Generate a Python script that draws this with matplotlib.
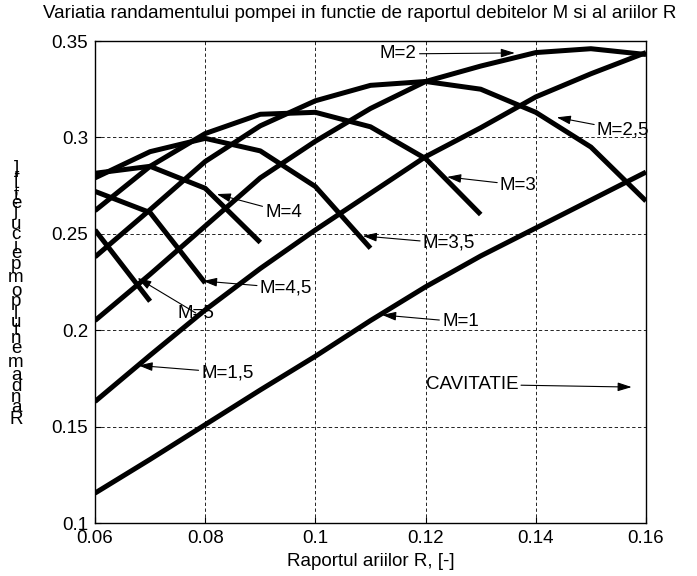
import matplotlib
matplotlib.use("Agg")
import matplotlib.pyplot as plt
from matplotlib.textpath import TextToPath
from matplotlib.font_manager import FontProperties

plt.rcParams['font.family'] = ['Liberation Sans', 'DejaVu Sans']

# raportul ariilor R
R = [0.06, 0.07, 0.08, 0.09, 0.10, 0.11, 0.12, 0.13, 0.14, 0.15, 0.16]

# randamentul pentru fiecare M (pana la limita de cavitatie)
eta_M1 = [0.1155, 0.133, 0.151, 0.169, 0.1865, 0.205, 0.2225, 0.2385, 0.253, 0.2675, 0.282]
eta_M15 = [0.163, 0.187, 0.2105, 0.232, 0.252, 0.271, 0.290, 0.305, 0.321, 0.333, 0.344]
eta_M2 = [0.205, 0.229, 0.254, 0.279, 0.298, 0.315, 0.329, 0.337, 0.344, 0.346, 0.343]
eta_M25 = [0.238, 0.2625, 0.2875, 0.306, 0.319, 0.327, 0.329, 0.325, 0.313, 0.295, 0.267]
eta_M3 = [0.262, 0.285, 0.302, 0.312, 0.313, 0.3055, 0.289, 0.26]
eta_M35 = [0.279, 0.2926, 0.2995, 0.293, 0.2745, 0.2425]
eta_M4 = [0.2814, 0.285, 0.2736, 0.2455]
eta_M45 = [0.272, 0.261, 0.2245]
eta_M5 = [0.252, 0.215]

x_ticks = [0.06, 0.08, 0.10, 0.12, 0.14, 0.16]
x_tick_labels = ['0.06', '0.08', '0.1', '0.12', '0.14', '0.16']
y_ticks = [0.10, 0.15, 0.20, 0.25, 0.30, 0.35]
y_tick_labels = ['0.1', '0.15', '0.2', '0.25', '0.3', '0.35']

# eticheta, varful sagetii, pozitia textului, aliniere
labels = ['M=2', 'M=2,5', 'M=3', 'M=3,5', 'M=1', 'M=1,5', 'M=4', 'M=4,5', 'M=5', 'CAVITATIE']
heads = [(0.1362, 0.3438), (0.1438, 0.3104), (0.1239, 0.2795), (0.1086, 0.2489),
         (0.1121, 0.2079), (0.0679, 0.1817), (0.0821, 0.2706), (0.0796, 0.2255),
         (0.0677, 0.2271), (0.1574, 0.1705)]
tails = [(0.1184, 0.3433), (0.1511, 0.3038), (0.1335, 0.2753), (0.1195, 0.2450),
         (0.1230, 0.2043), (0.0793, 0.1780), (0.0909, 0.2613), (0.0899, 0.2219),
         (0.0783, 0.2089), (0.1200, 0.1719)]
aligns = ['right', 'left', 'left', 'left', 'left', 'left', 'left', 'left', 'center', 'left']

title = 'Variatia randamentului pompei in functie de raportul debitelor M si al ariilor R'
xlabel = 'Raportul ariilor R, [-]'
ylabel = 'Randamentul pompei cu jet, [-]'

fs = 13.5

fig = plt.figure(figsize=(6.97, 5.76), dpi=100)
ax = fig.add_axes([95 / 697, 1 - 523 / 576, 551 / 697, 482 / 576])

for eta in [eta_M1, eta_M15, eta_M2, eta_M25, eta_M3, eta_M35, eta_M4, eta_M45, eta_M5]:
    ax.plot(R[:len(eta)], eta, color='k', lw=3.6, solid_capstyle='butt')

ax.set_xlim(0.06, 0.16)
ax.set_ylim(0.1, 0.35)
ax.set_xticks(x_ticks)
ax.set_xticklabels(x_tick_labels)
ax.set_yticks(y_ticks)
ax.set_yticklabels(y_tick_labels)
ax.tick_params(direction='in', length=4, labelsize=fs, pad=5)
ax.grid(True, color='k', ls=(0, (4, 3)), lw=0.6)
for s in ax.spines.values():
    s.set_linewidth(1.0)

for lab, h, t, a in zip(labels, heads, tails, aligns):
    ap = dict(arrowstyle='-|>,head_length=0.7,head_width=0.22', color='k', lw=0.8,
              shrinkA=0, shrinkB=0, mutation_scale=12)
    if a == 'center':
        ap['patchA'] = None
    ax.annotate(lab, xy=h, xytext=t, ha=a, va='center', fontsize=fs, arrowprops=ap)

fig.text(360 / 697, 1 - 13 / 576, title, ha='center', va='center', fontsize=fs)
ax.set_xlabel(xlabel, fontsize=fs, labelpad=4)

# eticheta axei y: litere verticale suprapuse, ca in original
fp = FontProperties(family='Liberation Sans', size=fs)
ttp = TextToPath()
adv = [ttp.get_text_width_height_descent(c, fp, ismath=False)[0] for c in ylabel]
pos = []
acc = 0
for w in adv:
    pos.append(acc + w / 2)
    acc += w
y_bot, y_top = 420, 168
for c, p in zip(ylabel, pos):
    py = y_bot + (y_top - y_bot) * (p - pos[0]) / (pos[-1] - pos[0])
    fig.text(16 / 697, 1 - py / 576, c, ha='center', va='center', fontsize=fs)

fig.savefig('out.png', dpi=100)
